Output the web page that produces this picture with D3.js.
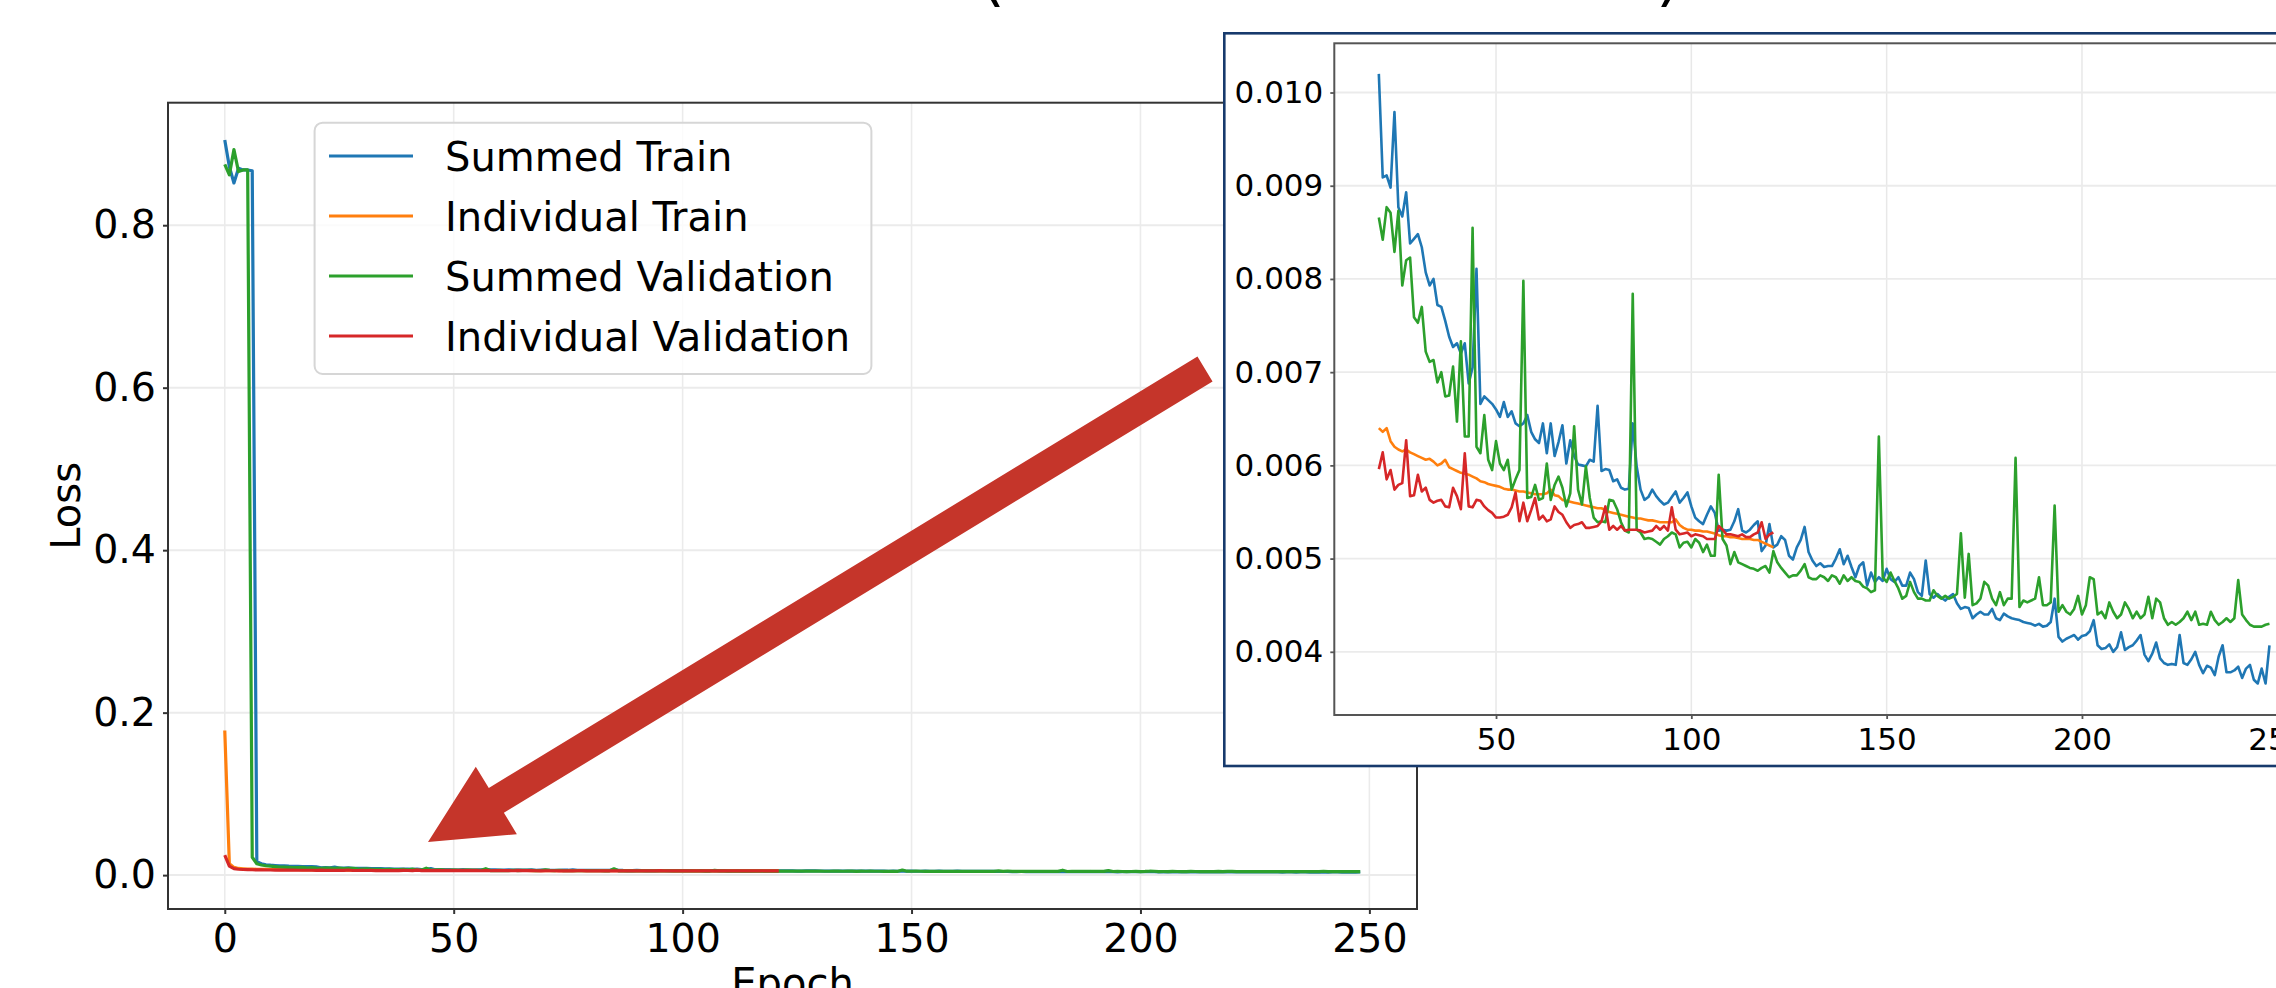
<!DOCTYPE html>
<html>
<head>
<meta charset="utf-8">
<script src="https://cdn.jsdelivr.net/npm/d3@7/dist/d3.min.js"></script>
<style>
  body { margin:0; background:#fff; }
  text { font-family:'DejaVu Sans', sans-serif; fill:#000; }
</style>
</head>
<body>
<script>
// ---- data (loss per epoch, epoch = index) ----
const seriesNames = ['Summed Train','Individual Train','Summed Validation','Individual Validation'];
const seriesColors = ['#1f77b4','#ff7f0e','#2ca02c','#d62728'];

const summedTrain = [
  0.905,0.872,0.852,0.870,0.868,0.868,0.867,0.0165,0.0140,0.0128,
  0.0122,0.0118,0.0115,0.0113,0.0110,0.0109,0.0108,0.0106,0.0105,0.0104,
  0.01020,0.00909,0.00911,0.00898,0.00979,0.00877,0.00867,0.00893,0.00838,0.00843,
  0.00848,0.00834,0.00807,0.00793,0.00800,0.00772,0.00770,0.00755,0.00738,0.00727,
  0.00731,0.00720,0.00731,0.00688,0.00705,0.00811,0.00666,0.00674,0.00670,0.00666,
  0.00660,0.00652,0.00668,0.00652,0.00658,0.00645,0.00642,0.00645,0.00654,0.00636,
  0.00628,0.00624,0.00645,0.00613,0.00645,0.00610,0.00625,0.00643,0.00602,0.00627,
  0.00610,0.00601,0.00600,0.00599,0.00606,0.00604,0.00664,0.00594,0.00596,0.00595,
  0.00583,0.00585,0.00576,0.00574,0.00575,0.00645,0.00599,0.00574,0.00563,0.00566,
  0.00574,0.00567,0.00562,0.00558,0.00560,0.00566,0.00572,0.00560,0.00565,0.00571,
  0.00556,0.00544,0.00540,0.00537,0.00547,0.00556,0.00549,0.00530,0.00531,0.00530,
  0.00531,0.00540,0.00553,0.00530,0.00528,0.00531,0.00536,0.00540,0.00508,0.00514,
  0.00537,0.00512,0.00515,0.00524,0.00520,0.00503,0.00499,0.00512,0.00520,0.00534,
  0.00507,0.00498,0.00492,0.00495,0.00491,0.00492,0.00492,0.00500,0.00510,0.00494,
  0.00503,0.00491,0.00480,0.00492,0.00496,0.00471,0.00485,0.00475,0.00480,0.00476,
  0.00489,0.00478,0.00475,0.00480,0.00471,0.00471,0.00485,0.00478,0.00464,0.00460,
  0.00498,0.00462,0.00458,0.00462,0.00458,0.00455,0.00459,0.00462,0.00452,0.00446,
  0.00448,0.00447,0.00436,0.00440,0.00443,0.00440,0.00440,0.00446,0.00436,0.00434,
  0.00441,0.00438,0.00436,0.00435,0.00434,0.00432,0.00431,0.00430,0.00428,0.00430,
  0.00427,0.00428,0.00432,0.00457,0.00416,0.00411,0.00414,0.00416,0.00418,0.00413,
  0.00417,0.00418,0.00422,0.00434,0.00407,0.00403,0.00404,0.00408,0.00400,0.00405,
  0.00421,0.00402,0.00405,0.00407,0.00412,0.00418,0.00397,0.00390,0.00398,0.00410,
  0.00393,0.00388,0.00386,0.00387,0.00386,0.00418,0.00388,0.00386,0.00392,0.00400,
  0.00386,0.00377,0.00385,0.00383,0.00375,0.00395,0.00407,0.00378,0.00378,0.00380,
  0.00384,0.00372,0.00382,0.00386,0.00370,0.00366,0.00382,0.00366,0.00407
];

const indivTrain = [
  0.178,0.0140,0.0095,0.0082,0.0078,0.0075,0.0073,0.0072,0.0071,0.0070,
  0.0069,0.0069,0.0068,0.0067,0.0067,0.0066,0.0066,0.0065,0.0065,0.0064,
  0.00640,0.00636,0.00640,0.00626,0.00620,0.00617,0.00615,0.00617,0.00614,0.00612,
  0.00610,0.00608,0.00606,0.00607,0.00604,0.00600,0.00602,0.00606,0.00598,0.00596,
  0.00594,0.00592,0.00591,0.00590,0.00588,0.00586,0.00583,0.00582,0.00580,0.00579,
  0.00578,0.00577,0.00575,0.00574,0.00574,0.00573,0.00572,0.00572,0.00571,0.00570,
  0.00569,0.00569,0.00569,0.00570,0.00574,0.00568,0.00567,0.00563,0.00562,0.00561,
  0.00560,0.00559,0.00558,0.00557,0.00556,0.00555,0.00554,0.00554,0.00552,0.00550,
  0.00549,0.00548,0.00547,0.00546,0.00545,0.00544,0.00543,0.00543,0.00542,0.00541,
  0.00541,0.00540,0.00539,0.00539,0.00539,0.00539,0.00542,0.00536,0.00533,0.00531,
  0.00531,0.00530,0.00530,0.00529,0.00529,0.00528,0.00527,0.00525,0.00524,0.00524,
  0.00523,0.00523,0.00522,0.00521,0.00521,0.00521,0.00520,0.00520,0.00518,0.00516,
  0.00514,0.00512
];

const summedVal = [
  0.875,0.862,0.893,0.866,0.868,0.868,0.0220,0.0140,0.0125,0.0115,
  0.0110,0.0105,0.0100,0.0098,0.0095,0.0093,0.0092,0.0096,0.0088,0.0092,
  0.00866,0.00842,0.00877,0.00871,0.00829,0.00873,0.00793,0.00820,0.00823,0.00759,
  0.00753,0.00770,0.00722,0.00711,0.00713,0.00689,0.00700,0.00674,0.00675,0.00706,
  0.00647,0.00733,0.00631,0.00631,0.00855,0.00620,0.00613,0.00654,0.00606,0.00595,
  0.00626,0.00602,0.00595,0.00606,0.00574,0.00585,0.00595,0.00798,0.00565,0.00566,
  0.00579,0.00563,0.00565,0.00602,0.00563,0.00579,0.00588,0.00576,0.00556,0.00570,
  0.00642,0.00574,0.00558,0.00599,0.00565,0.00544,0.00539,0.00540,0.00539,0.00563,
  0.00562,0.00553,0.00539,0.00530,0.00528,0.00784,0.00531,0.00528,0.00521,0.00522,
  0.00521,0.00518,0.00515,0.00521,0.00524,0.00528,0.00526,0.00512,0.00517,0.00518,
  0.00512,0.00521,0.00517,0.00507,0.00515,0.00503,0.00503,0.00590,0.00521,0.00514,
  0.00494,0.00507,0.00496,0.00494,0.00492,0.00490,0.00489,0.00487,0.00490,0.00492,
  0.00485,0.00508,0.00496,0.00490,0.00485,0.00480,0.00482,0.00482,0.00487,0.00494,
  0.00480,0.00478,0.00478,0.00482,0.00480,0.00476,0.00482,0.00480,0.00473,0.00482,
  0.00476,0.00480,0.00476,0.00475,0.00470,0.00468,0.00464,0.00466,0.00631,0.00480,
  0.00475,0.00485,0.00476,0.00468,0.00457,0.00460,0.00475,0.00464,0.00457,0.00457,
  0.00455,0.00455,0.00466,0.00460,0.00457,0.00460,0.00457,0.00459,0.00462,0.00527,
  0.00458,0.00505,0.00450,0.00452,0.00457,0.00475,0.00471,0.00457,0.00450,0.00464,
  0.00450,0.00457,0.00457,0.00608,0.00448,0.00455,0.00453,0.00455,0.00457,0.00480,
  0.00450,0.00450,0.00453,0.00557,0.00443,0.00450,0.00443,0.00440,0.00446,0.00460,
  0.00440,0.00450,0.00480,0.00478,0.00440,0.00443,0.00436,0.00453,0.00443,0.00436,
  0.00440,0.00453,0.00446,0.00436,0.00443,0.00436,0.00440,0.00459,0.00436,0.00457,
  0.00453,0.00436,0.00429,0.00432,0.00429,0.00432,0.00436,0.00443,0.00434,0.00443,
  0.00429,0.00430,0.00429,0.00443,0.00434,0.00429,0.00432,0.00436,0.00432,0.00436,
  0.00477,0.00440,0.00434,0.00429,0.00427,0.00427,0.00427,0.00429,0.00430
];

const indivVal = [
  0.0246,0.0110,0.0080,0.0072,0.0069,0.0067,0.0066,0.0065,0.0064,0.0063,
  0.0063,0.0062,0.0062,0.0061,0.0061,0.0061,0.0060,0.0060,0.0060,0.0060,
  0.00596,0.00614,0.00585,0.00595,0.00574,0.00579,0.00581,0.00627,0.00567,0.00568,
  0.00590,0.00572,0.00576,0.00563,0.00560,0.00562,0.00563,0.00556,0.00555,0.00576,
  0.00567,0.00553,0.00613,0.00556,0.00555,0.00563,0.00562,0.00556,0.00552,0.00549,
  0.00544,0.00544,0.00545,0.00547,0.00555,0.00571,0.00540,0.00560,0.00540,0.00552,
  0.00565,0.00542,0.00546,0.00540,0.00542,0.00556,0.00550,0.00547,0.00539,0.00533,
  0.00536,0.00537,0.00539,0.00533,0.00533,0.00534,0.00535,0.00540,0.00556,0.00531,
  0.00535,0.00531,0.00535,0.00530,0.00531,0.00531,0.00531,0.00530,0.00528,0.00529,
  0.00530,0.00535,0.00531,0.00535,0.00530,0.00555,0.00531,0.00526,0.00527,0.00528,
  0.00524,0.00526,0.00525,0.00524,0.00521,0.00521,0.00521,0.00535,0.00531,0.00526,
  0.00526,0.00525,0.00524,0.00526,0.00523,0.00523,0.00526,0.00528,0.00539,0.00521,
  0.00526,0.00528
];

const allSeries = [summedTrain, indivTrain, summedVal, indivVal];

const mainXTicks = [0,50,100,150,200,250];
const mainYTicks = [0.0,0.2,0.4,0.6,0.8];
const insetStart = 20;            // first epoch shown in the zoomed inset
const insetXTicks = [50,100,150,200,250];
const insetYTicks = [0.004,0.005,0.006,0.007,0.008,0.009,0.010];

// ---- page ----
const W = 2276, H = 988;
const svg = d3.select('body').append('svg')
  .attr('width',W).attr('height',H)
  .style('display','block');

// ---- main axes ----
const M = {left:168, right:1417, top:102.7, bottom:909};
const x = d3.scaleLinear().domain([-12.4,260.4]).range([M.left,M.right]);
const y = d3.scaleLinear().domain([-0.0417,0.9508]).range([M.bottom,M.top]);

const main = svg.append('g').attr('id','main');

main.append('g').selectAll('line.vg')
  .data(mainXTicks).join('line')
  .attr('x1',d=>x(d)).attr('x2',d=>x(d))
  .attr('y1',M.top).attr('y2',M.bottom)
  .style('stroke','#ebebeb').style('stroke-width',1.6);
main.append('g').selectAll('line.hg')
  .data(mainYTicks).join('line')
  .attr('x1',M.left).attr('x2',M.right)
  .attr('y1',d=>y(d)).attr('y2',d=>y(d))
  .style('stroke','#ebebeb').style('stroke-width',2);

const mainLine = d3.line().x((d,i)=>x(i)).y(d=>y(d));
main.append('g').selectAll('path')
  .data(allSeries).join('path')
  .attr('d',mainLine)
  .style('fill','none')
  .style('stroke',(d,i)=>seriesColors[i])
  .style('stroke-width',3.2)
  .style('stroke-linejoin','round');

const xAxis = main.append('g')
  .attr('transform','translate(0,'+M.bottom+')')
  .call(d3.axisBottom(x).tickValues(mainXTicks).tickFormat(d3.format('d')).tickSize(5).tickPadding(10));
const yAxis = main.append('g')
  .attr('transform','translate('+M.left+',0)')
  .call(d3.axisLeft(y).tickValues(mainYTicks).tickFormat(d3.format('.1f')).tickSize(5).tickPadding(7));
[xAxis,yAxis].forEach(function(a){
  a.select('.domain').remove();
  a.selectAll('line').style('stroke','#333').style('stroke-width',2);
  a.selectAll('text').style('font-size','39.5px').style('font-family','DejaVu Sans').style('fill','#000');
});

main.append('rect')
  .attr('x',M.left).attr('y',M.top)
  .attr('width',M.right-M.left).attr('height',M.bottom-M.top)
  .style('fill','none').style('stroke','#333').style('stroke-width',2);

main.append('text')
  .attr('transform','translate(80,'+((M.top+M.bottom)/2)+') rotate(-90)')
  .attr('text-anchor','middle')
  .style('font-size','40px')
  .text('Loss');
main.append('text')
  .attr('x',(M.left+M.right)/2).attr('y',997)
  .attr('text-anchor','middle')
  .style('font-size','40px')
  .text('Epoch');

// legend
const legend = main.append('g').attr('id','legend');
legend.append('rect')
  .attr('x',314.6).attr('y',122.7).attr('width',556.8).attr('height',251.3)
  .attr('rx',8)
  .style('fill','#fff').style('fill-opacity',0.8)
  .style('stroke','#d6d6d6').style('stroke-width',2);
const rows = legend.selectAll('g.row')
  .data(seriesNames).join('g')
  .attr('class','row')
  .attr('transform',(d,i)=>'translate(0,'+(156+60*i)+')');
rows.append('line')
  .attr('x1',329).attr('x2',413).attr('y1',0).attr('y2',0)
  .style('stroke',(d,i)=>seriesColors[i]).style('stroke-width',3.2);
rows.append('text')
  .attr('x',445).attr('y',14.5)
  .style('font-size','40px')
  .text(d=>d);

// ---- arrow pointing at the flat tail ----
function arrowPoints(tip,tail,headLen,headHalf,shaftHalf){
  const dx = tail[0]-tip[0], dy = tail[1]-tip[1];
  const len = Math.hypot(dx,dy);
  const ux = dx/len, uy = dy/len, px = -uy, py = ux;
  const b = [tip[0]+ux*headLen, tip[1]+uy*headLen];
  return [
    tip,
    [b[0]+px*headHalf, b[1]+py*headHalf],
    [b[0]+px*shaftHalf, b[1]+py*shaftHalf],
    [tail[0]+px*shaftHalf, tail[1]+py*shaftHalf],
    [tail[0]-px*shaftHalf, tail[1]-py*shaftHalf],
    [b[0]-px*shaftHalf, b[1]-py*shaftHalf],
    [b[0]-px*headHalf, b[1]-py*headHalf]
  ];
}
svg.append('polygon')
  .attr('points',arrowPoints([428,842],[1205,369],80,39.5,14.5).map(p=>p.join(',')).join(' '))
  .style('fill','#c5352a');

// ---- inset (zoom on epochs >= 20) ----
const I = {left:1334.3, right:2314, top:43.3, bottom:715};
const xi = d3.scaleLinear().domain([8.6,259.4]).range([I.left,I.right]);
const yi = d3.scaleLinear().domain([0.003322,0.010528]).range([I.bottom,I.top]);

const inset = svg.append('g').attr('id','inset');
inset.append('rect')
  .attr('x',1224.3).attr('y',33.3).attr('width',1200).attr('height',766-33.3)
  .style('fill','#fff').style('stroke','#173a6c').style('stroke-width',2.6);

svg.append('defs').append('clipPath').attr('id','clip-inset')
  .append('rect')
  .attr('x',I.left).attr('y',I.top)
  .attr('width',I.right-I.left).attr('height',I.bottom-I.top);

inset.append('g').selectAll('line')
  .data(insetXTicks).join('line')
  .attr('x1',d=>xi(d)).attr('x2',d=>xi(d))
  .attr('y1',I.top).attr('y2',I.bottom)
  .style('stroke','#e8e8e8').style('stroke-width',1.5);
inset.append('g').selectAll('line')
  .data(insetYTicks).join('line')
  .attr('x1',I.left).attr('x2',I.right)
  .attr('y1',d=>yi(d)).attr('y2',d=>yi(d))
  .style('stroke','#ebebeb').style('stroke-width',1.8);

const insetLine = d3.line().x((d,i)=>xi(i+insetStart)).y(d=>yi(d));
inset.append('g').attr('clip-path','url(#clip-inset)')
  .selectAll('path')
  .data(allSeries.map(s=>s.slice(insetStart))).join('path')
  .attr('d',insetLine)
  .style('fill','none')
  .style('stroke',(d,i)=>seriesColors[i])
  .style('stroke-width',2.6)
  .style('stroke-linejoin','round');

const xiAxis = inset.append('g')
  .attr('transform','translate(0,'+I.bottom+')')
  .call(d3.axisBottom(xi).tickValues(insetXTicks).tickFormat(d3.format('d')).tickSize(4).tickPadding(8.5));
const yiAxis = inset.append('g')
  .attr('transform','translate('+I.left+',0)')
  .call(d3.axisLeft(yi).tickValues(insetYTicks).tickFormat(d3.format('.3f')).tickSize(4).tickPadding(7));
[xiAxis,yiAxis].forEach(function(a){
  a.select('.domain').remove();
  a.selectAll('line').style('stroke','#555').style('stroke-width',1.8);
  a.selectAll('text').style('font-size','31px').style('font-family','DejaVu Sans').style('fill','#000');
});
inset.append('rect')
  .attr('x',I.left).attr('y',I.top)
  .attr('width',I.right-I.left).attr('height',I.bottom-I.top)
  .style('fill','none').style('stroke','#555').style('stroke-width',2);

// ---- title (only the bottom of its brackets is inside the frame) ----
svg.append('text').attr('x',980).attr('y',-1).style('font-size','64px').text('(');
svg.append('text').attr('x',1656).attr('y',-1).style('font-size','64px').text(')');
</script>
</body>
</html>
